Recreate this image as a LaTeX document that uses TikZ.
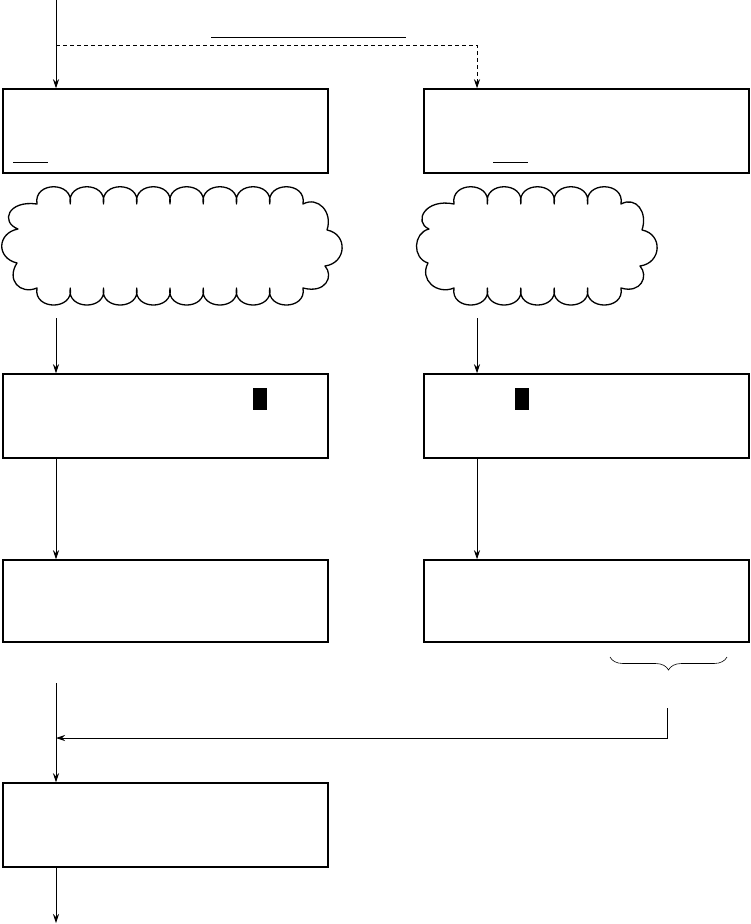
\documentclass[tikz,border=0pt]{standalone}
\usetikzlibrary{arrows.meta,decorations.pathreplacing}
\tikzset{
  box/.style={draw, line width=1.5pt, minimum width=325pt, minimum height=84pt, inner sep=0pt, anchor=center},
  flow/.style={line width=0.8pt, -{Stealth[length=9pt,width=6pt,inset=3pt]}},
  plain/.style={line width=0.8pt},
  cloudline/.style={line width=1.3pt, line join=round},
  mark box/.style={fill=black, draw=none},
}
\begin{document}
\begin{tikzpicture}[x=1pt,y=-1pt]
\useasboundingbox (0,0) rectangle (751,924);

% boxes
\node[box] (b1L) at (165.5,131) {};
\node[box] (b1R) at (586.5,131) {};
\node[box] (b2L) at (165.5,416) {};
\node[box] (b2R) at (586.5,416) {};
\node[box, minimum height=82pt] (b3L) at (165.5,601) {};
\node[box, minimum height=82pt] (b3R) at (586.5,601) {};
\node[box] (b4L) at (165.5,825) {};

% black marks
\fill[mark box] (253,388) rectangle (267,410);
\fill[mark box] (515,388) rectangle (529,410);

% underlines
\draw[plain] (13,162) -- (48,162);
\draw[plain] (493,162) -- (528,162);
\draw[plain] (211,37) -- (406,37);

% coordinates
\coordinate (top) at (56,0);
\coordinate (split) at (56,45);
\coordinate (dturn) at (477,45);
\coordinate (c1L) at (56,318);
\coordinate (c1R) at (477,318);
\coordinate (m1) at (56,683);
\coordinate (bstart) at (667,708);
\coordinate (bturn) at (667,738);
\coordinate (join) at (56,738);
\coordinate (endpt) at (56,923);

% connectors
\draw[flow] (top) -- (b1L.north -| top);
\draw[flow, dash pattern=on 4pt off 3pt] (split) -- (dturn) -- (b1R.north -| dturn);
\draw[flow] (c1L) -- (b2L.north -| c1L);
\draw[flow] (c1R) -- (b2R.north -| c1R);
\draw[flow] (b2L.south -| c1L) -- (b3L.north -| c1L);
\draw[flow] (b2R.south -| c1R) -- (b3R.north -| c1R);
\draw[flow] (m1) -- (b4L.north -| m1);
\draw[flow] (bstart) -- (bturn) -- (join);
\draw[flow] (b4L.south -| m1) -- (endpt);

% brace
\draw[decorate, decoration={brace, mirror, amplitude=13pt}, line width=0.6pt] (610,657) -- (727,657);

% left cloud
\draw[cloudline] (37,204)
  \foreach \i in {0,...,7}{ .. controls ({37+33.25*\i-4},181) and ({37+33.25*(\i+1)+4},181) .. ({37+33.25*(\i+1)},204) }
  .. controls (318,196) and (333,212) .. (327,230)
  .. controls (348,234) and (347,263) .. (325,266)
  .. controls (334,276) and (326,294) .. (303,288)
  \foreach \i in {7,...,0}{ .. controls ({37+33.25*(\i+1)+4},310.7) and ({37+33.25*\i-4},310.7) .. ({37+33.25*\i},288) }
  .. controls (20,295) and (6,280) .. (17,263)
  .. controls (-4,258) and (-3,233) .. (18,229)
  .. controls (0,222) and (8,200) .. (37,204) -- cycle;

% right cloud
\draw[cloudline] (454,204)
  \foreach \i in {0,...,4}{ .. controls ({454+33.4*\i-4},181) and ({454+33.4*(\i+1)+4},181) .. ({454+33.4*(\i+1)},204) }
  .. controls (636,196) and (648,212) .. (642,230)
  .. controls (663,234) and (662,263) .. (640,266)
  .. controls (649,276) and (641,294) .. (621,288)
  \foreach \i in {4,...,0}{ .. controls ({454+33.4*(\i+1)+4},310.7) and ({454+33.4*\i-4},310.7) .. ({454+33.4*\i},288) }
  .. controls (437,295) and (419,280) .. (428,263)
  .. controls (412,258) and (413,233) .. (429,229)
  .. controls (413,222) and (425,198) .. (454,204) -- cycle;
\end{tikzpicture}
\end{document}
